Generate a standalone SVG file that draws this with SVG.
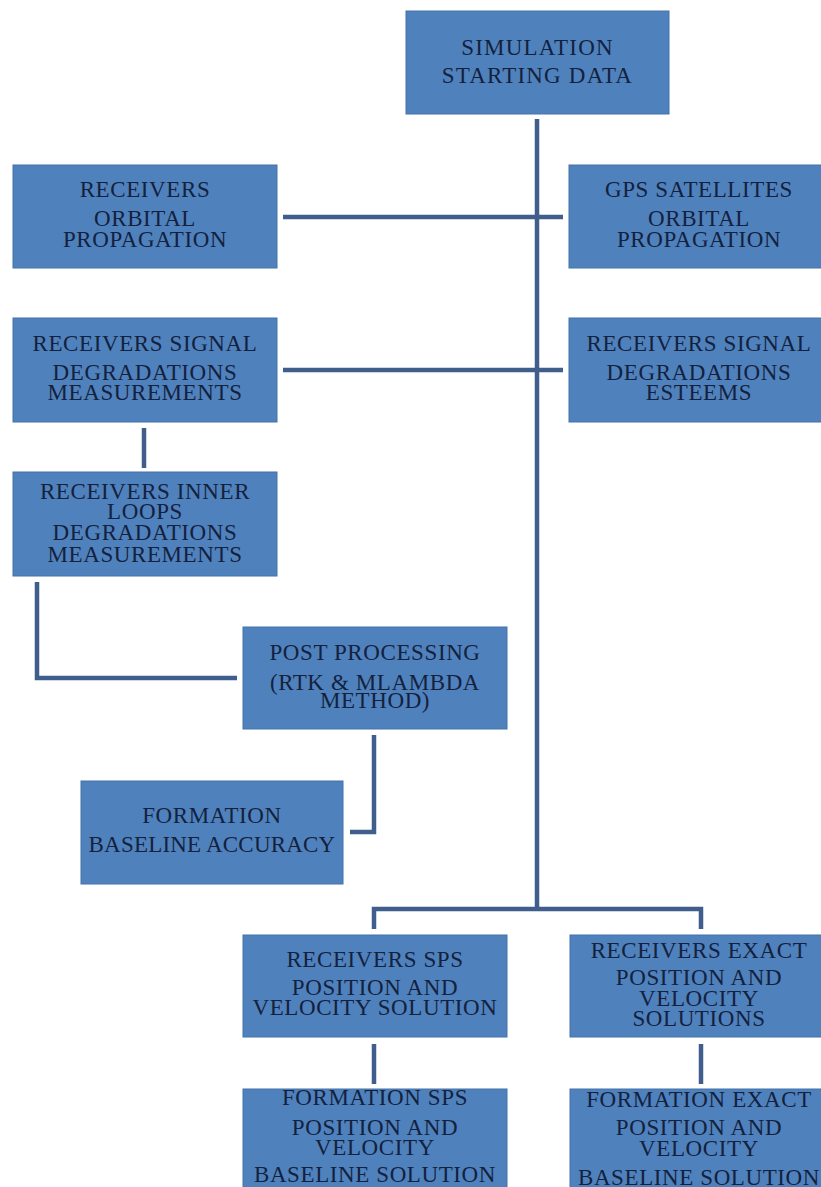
<svg xmlns="http://www.w3.org/2000/svg" width="821" height="1187" viewBox="0 0 821 1187">
<style>
.box{fill:#4f81bd;stroke:#4272a8;stroke-width:1}
.t{font-family:"Liberation Serif","Times New Roman",serif;font-size:23px;fill:#14213d;text-anchor:middle;letter-spacing:0.6px}
.c{fill:none;stroke:#3f5e8c;stroke-width:4.5}
</style>
<rect width="821" height="1187" fill="#ffffff"/>
<g id="connectors">
<path class="c" d="M537 119 V908"/>
<path class="c" d="M283 217 H563"/>
<path class="c" d="M283 370 H563"/>
<path class="c" d="M144 428 V468"/>
<path class="c" d="M37 582 V678 H237"/>
<path class="c" d="M374 735 V832 H350"/>
<path class="c" d="M374 929 V909 H701 V929"/>
<path class="c" d="M374 1044 V1084"/>
<path class="c" d="M701 1044 V1084"/>
</g>
<g id="start">
<rect class="box" x="406" y="11" width="263" height="103"/>
<text class="t" x="537.5" y="55" style="letter-spacing:1.2px">SIMULATION</text>
<text class="t" x="537.5" y="83" style="letter-spacing:1.2px">STARTING DATA</text>
</g>
<g id="receivers-orbital">
<rect class="box" x="13" y="165" width="264" height="103"/>
<text class="t" x="145" y="197">RECEIVERS</text>
<text class="t" x="145" y="226">ORBITAL</text>
<text class="t" x="145" y="247">PROPAGATION</text>
</g>
<g id="gps-orbital">
<rect class="box" x="569" y="165" width="264" height="103"/>
<text class="t" x="699" y="197">GPS SATELLITES</text>
<text class="t" x="699" y="226">ORBITAL</text>
<text class="t" x="699" y="247">PROPAGATION</text>
</g>
<g id="receivers-signal-measurements">
<rect class="box" x="13" y="318" width="264" height="104"/>
<text class="t" x="145" y="351">RECEIVERS SIGNAL</text>
<text class="t" x="145" y="380">DEGRADATIONS</text>
<text class="t" x="145" y="400">MEASUREMENTS</text>
</g>
<g id="receivers-signal-esteems">
<rect class="box" x="569" y="318" width="264" height="104"/>
<text class="t" x="699" y="351">RECEIVERS SIGNAL</text>
<text class="t" x="699" y="380">DEGRADATIONS</text>
<text class="t" x="699" y="400">ESTEEMS</text>
</g>
<g id="inner-loops">
<rect class="box" x="13" y="472" width="264" height="104"/>
<text class="t" x="145" y="499">RECEIVERS INNER</text>
<text class="t" x="145" y="519">LOOPS</text>
<text class="t" x="145" y="540">DEGRADATIONS</text>
<text class="t" x="145" y="562">MEASUREMENTS</text>
</g>
<g id="post-processing">
<rect class="box" x="243" y="627" width="264" height="102"/>
<text class="t" x="375" y="660">POST PROCESSING</text>
<text class="t" x="375" y="690">(RTK &amp; MLAMBDA</text>
<text class="t" x="375" y="708">METHOD)</text>
</g>
<g id="formation-baseline-accuracy">
<rect class="box" x="81" y="781" width="262" height="103"/>
<text class="t" x="212" y="823">FORMATION</text>
<text class="t" x="212" y="852" style="letter-spacing:0.2px">BASELINE ACCURACY</text>
</g>
<g id="receivers-sps">
<rect class="box" x="243" y="935" width="264" height="102"/>
<text class="t" x="375" y="967">RECEIVERS SPS</text>
<text class="t" x="375" y="995">POSITION AND</text>
<text class="t" x="375" y="1015">VELOCITY SOLUTION</text>
</g>
<g id="receivers-exact">
<rect class="box" x="570" y="935" width="264" height="102"/>
<text class="t" x="699" y="958">RECEIVERS EXACT</text>
<text class="t" x="699" y="985">POSITION AND</text>
<text class="t" x="699" y="1006">VELOCITY</text>
<text class="t" x="699" y="1026">SOLUTIONS</text>
</g>
<g id="formation-sps">
<rect class="box" x="243" y="1089" width="264" height="110"/>
<text class="t" x="375" y="1105">FORMATION SPS</text>
<text class="t" x="375" y="1135">POSITION AND</text>
<text class="t" x="375" y="1155">VELOCITY</text>
<text class="t" x="375" y="1182">BASELINE SOLUTION</text>
</g>
<g id="formation-exact">
<rect class="box" x="570" y="1089" width="264" height="110"/>
<text class="t" x="699" y="1107">FORMATION EXACT</text>
<text class="t" x="699" y="1135">POSITION AND</text>
<text class="t" x="699" y="1156">VELOCITY</text>
<text class="t" x="699" y="1185">BASELINE SOLUTION</text>
</g>
</svg>
